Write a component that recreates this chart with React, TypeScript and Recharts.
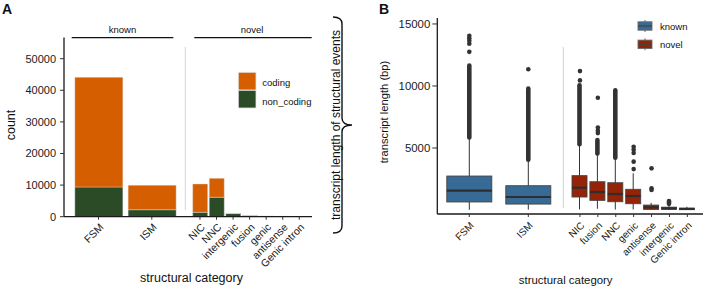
import React from 'react';
import { ComposedChart, Bar, XAxis, YAxis, Scatter } from 'recharts';

// ---- panel A: counts per structural category ----
const knownCats = ['FSM', 'ISM'];
const novelCatsA = ['NIC', 'NNC', 'intergenic', 'fusion', 'genic', 'antisense', 'Genic intron'];
const codingKnown = [34700, 7750];
const nonCodingKnown = [9400, 2200];
const codingNovel = [8950, 6000, 80, 60, 60, 20, 5];
const nonCodingNovel = [1400, 6150, 1000, 380, 150, 80, 25];
const countTicks = [0, 10000, 20000, 30000, 40000, 50000];

// ---- panel B: transcript length box plots ----
const novelCatsB = ['NIC', 'fusion', 'NNC', 'genic', 'antisense', 'intergenic', 'Genic intron'];
const lengthTicks = [5000, 10000, 15000];

const whiskLoKnown = [20, 30];
const q1Known = [650, 480];
const medKnown = [1560, 1050];
const q3Known = [2740, 1960];
const whiskHiKnown = [5780, 3980];
const stripeKnown: ([number, number] | null)[] = [[5850, 11650], [4050, 9800]];
const outliersKnown = [
  [12750, 13400, 13650, 13850, 14050],
  [11350],
];

const whiskLoNovel = [50, 100, 40, 50, 20, 0, 10];
const q1Novel = [1050, 780, 670, 510, 50, 60, 30];
const medNovel = [1800, 1450, 1290, 1130, 220, 130, 90];
const q3Novel = [2770, 2280, 2200, 1670, 400, 230, 150];
const whiskHiNovel = [5240, 4380, 4170, 2960, 580, 480, 260];
const stripeNovel: ([number, number] | null)[] = [
  [5300, 10050], [4550, 5650], [4220, 9650], null, null, [500, 720], null,
];
const outliersNovel = [
  [10450, 11200],
  [6200, 6400, 6650, 9050],
  [],
  [3300, 3900, 4600, 4850, 5100],
  [1620, 1750, 3360],
  [],
  [],
];

const ORANGE = '#D55E00';
const GREEN = '#2B4A26';
const BLUE = '#386A96';
const RED = '#952306';
const FONT = '"Liberation Sans", Arial, Helvetica, sans-serif';

const barRows = (cats: string[], coding: number[], nonCoding: number[]) =>
  cats.map((cat, i) => ({ cat, coding: coding[i], non_coding: nonCoding[i] }));

const boxRows = (
  cats: string[], lo: number[], q1: number[], med: number[], q3: number[], hi: number[],
  stripe: ([number, number] | null)[],
) =>
  cats.map((cat, i) => ({
    cat, whisk: [lo[i], hi[i]], q1: q1[i], med: med[i], q3: q3[i], stripe: stripe[i],
  }));

const outlierRows = (cats: string[], outs: number[][]) =>
  cats.flatMap((cat, i) => outs[i].map((v) => ({ cat, v })));

const aKnown = barRows(knownCats, codingKnown, nonCodingKnown);
const aNovel = barRows(novelCatsA, codingNovel, nonCodingNovel);
const bKnown = boxRows(knownCats, whiskLoKnown, q1Known, medKnown, q3Known, whiskHiKnown, stripeKnown);
const bNovel = boxRows(novelCatsB, whiskLoNovel, q1Novel, medNovel, q3Novel, whiskHiNovel, stripeNovel);
const bKnownOut = outlierRows(knownCats, outliersKnown);
const bNovelOut = outlierRows(novelCatsB, outliersNovel);

const rotTick = (fs: number) => (props: any) => {
  const { x, y, payload } = props;
  return (
    <text
      x={x}
      y={y}
      transform={`rotate(-45 ${x} ${y})`}
      textAnchor="end"
      dominantBaseline="hanging"
      fontSize={fs}
      fontFamily={FONT}
      fill="#1a1a1a"
    >
      {payload.value}
    </text>
  );
};

function BoxShape(props: any) {
  const { x, y, width, height, payload, fill } = props;
  if (!payload || !payload.whisk) return <g />;
  const [lo, hi] = payload.whisk;
  const top = Math.min(y, y + height);
  const bot = Math.max(y, y + height);
  const px = (v: number) => top + ((hi - v) / (hi - lo)) * (bot - top);
  const cx = x + width / 2;
  const yq3 = px(payload.q3);
  const yq1 = px(payload.q1);
  const ym = px(payload.med);
  return (
    <g>
      <line x1={cx} x2={cx} y1={top} y2={bot} stroke="#333" strokeWidth={1} />
      <rect x={x} y={yq3} width={width} height={Math.max(yq1 - yq3, 1)} fill={fill} stroke="#444" strokeWidth={0.9} />
      <line x1={x} x2={x + width} y1={ym} y2={ym} stroke="#2e2e2e" strokeWidth={2.2} />
    </g>
  );
}

function StripeShape(props: any) {
  const { x, y, width, height, payload } = props;
  if (!payload || !payload.stripe) return <g />;
  const top = Math.min(y, y + height);
  const h = Math.abs(height);
  const cx = x + width / 2;
  return <rect x={cx - 2.3} y={top - 2.3} width={4.6} height={h + 4.6} rx={2.3} fill="#333" />;
}

const Dot = (p: any) => <circle cx={p.cx} cy={p.cy} r={2.3} fill="#333" />;

const axisStroke = { stroke: '#1a1a1a', strokeWidth: 1.3 };
const tickStroke = { stroke: '#333', strokeWidth: 1 };

function BarFacet({ data, left, width, yAxis, padL, padR, barSize }: any) {
  return (
    <div style={{ position: 'absolute', left, top: 0 }}>
      <ComposedChart width={width} height={286} data={data} margin={{ top: 37.5, right: 0, bottom: 0, left: 0 }}>
        <XAxis
          dataKey="cat"
          type="category"
          height={69.3}
          padding={{ left: padL, right: padR }}
          axisLine={axisStroke}
          tickLine={tickStroke}
          tickSize={3}
          tickMargin={2.5}
          interval={0}
          tick={rotTick(10.5)}
        />
        <YAxis
          type="number"
          domain={[0, 56700]}
          ticks={countTicks}
          hide={!yAxis}
          width={yAxis ? 64 : 0}
          axisLine={axisStroke}
          tickLine={tickStroke}
          tickSize={4}
          tickMargin={4}
          tick={{ fontSize: 11, fill: '#1a1a1a', fontFamily: FONT }}
        />
        <Bar dataKey="non_coding" stackId="s" fill={GREEN} stroke="#e6e6e6" strokeWidth={0.4} barSize={barSize} isAnimationActive={false} />
        <Bar dataKey="coding" stackId="s" fill={ORANGE} stroke="#e6e6e6" strokeWidth={0.4} barSize={barSize} isAnimationActive={false} />
      </ComposedChart>
    </div>
  );
}

function BoxFacet({ data, outliers, left, width, yAxis, padL, padR, boxSize, fill }: any) {
  return (
    <div style={{ position: 'absolute', left, top: 0 }}>
      <ComposedChart width={width} height={286} data={data} margin={{ top: 18, right: 0, bottom: 0, left: 0 }}>
        <XAxis
          xAxisId="main"
          dataKey="cat"
          type="category"
          allowDuplicatedCategory={false}
          height={72}
          padding={{ left: padL, right: padR }}
          axisLine={axisStroke}
          tickLine={tickStroke}
          tickSize={3}
          tickMargin={4}
          interval={0}
          tick={rotTick(10)}
        />
        <XAxis xAxisId="stripe" dataKey="cat" type="category" hide height={0} padding={{ left: padL, right: padR }} />
        <YAxis
          type="number"
          domain={[-320, 15480]}
          ticks={lengthTicks}
          hide={!yAxis}
          width={yAxis ? 57.3 : 0}
          axisLine={axisStroke}
          tickLine={tickStroke}
          tickSize={5}
          tickMargin={2}
          tick={{ fontSize: 11.4, fill: '#1a1a1a', fontFamily: FONT }}
        />
        <Bar xAxisId="stripe" dataKey="stripe" barSize={boxSize} shape={StripeShape} isAnimationActive={false} />
        <Scatter xAxisId="main" data={outliers} dataKey="v" shape={Dot} isAnimationActive={false} />
        <Bar xAxisId="main" dataKey="whisk" barSize={boxSize} fill={fill} shape={BoxShape} isAnimationActive={false} />
      </ComposedChart>
    </div>
  );
}

function Overlay() {
  const t = { fontFamily: FONT, fill: '#111' } as const;
  return (
    <svg width={705} height={286} style={{ position: 'absolute', left: 0, top: 0, pointerEvents: 'none' }}>
      <text x={2} y={14} fontSize={14} fontWeight="bold" {...t}>A</text>
      <text x={379} y={14} fontSize={14} fontWeight="bold" {...t}>B</text>

      {/* facet strips, panel A */}
      <text x={122.5} y={29} fontSize={9.5} textAnchor="middle" dominantBaseline="central" {...t}>known</text>
      <line x1={71.7} x2={173.3} y1={37.7} y2={37.7} stroke="#111" strokeWidth={1.2} />
      <text x={252} y={29} fontSize={9.5} textAnchor="middle" dominantBaseline="central" {...t}>novel</text>
      <line x1={194.3} x2={311.7} y1={37.7} y2={37.7} stroke="#111" strokeWidth={1.2} />

      {/* facet separators */}
      <line x1={185.3} x2={185.3} y1={47} y2={210} stroke="#d4d4d4" strokeWidth={1} />
      <line x1={563.3} x2={563.3} y1={47} y2={208} stroke="#d4d4d4" strokeWidth={1} />

      {/* axis titles */}
      <text x={11} y={125} fontSize={12.5} textAnchor="middle" dominantBaseline="central" transform="rotate(-90 11 125)" {...t}>count</text>
      <text x={191.5} y={278} fontSize={12.5} textAnchor="middle" dominantBaseline="central" {...t}>structural category</text>
      <text x={384} y={112} fontSize={11.2} textAnchor="middle" dominantBaseline="central" transform="rotate(-90 384 112)" {...t}>transcript length (bp)</text>
      <text x={565.7} y={280} fontSize={11.4} textAnchor="middle" dominantBaseline="central" {...t}>structural category</text>

      {/* legend A */}
      <rect x={238.3} y={72.3} width={17.7} height={17.7} fill={ORANGE} stroke="#e3e3e3" strokeWidth={0.8} />
      <rect x={238.3} y={90.3} width={17.7} height={17.7} fill={GREEN} stroke="#e3e3e3" strokeWidth={0.8} />
      <text x={262.3} y={82.7} fontSize={9.5} dominantBaseline="central" {...t}>coding</text>
      <text x={262.3} y={101.7} fontSize={9.5} dominantBaseline="central" {...t}>non_coding</text>

      {/* legend B */}
      {[{ y: 20, c: BLUE, l: 'known' }, { y: 38.3, c: RED, l: 'novel' }].map((k) => (
        <g key={k.l}>
          <line x1={645} x2={645} y1={k.y} y2={k.y + 12} stroke="#555" strokeWidth={0.9} />
          <rect x={638} y={k.y + 1.8} width={14} height={8.4} fill={k.c} stroke="#6a6a6a" strokeWidth={0.9} />
          <line x1={638} x2={652} y1={k.y + 6} y2={k.y + 6} stroke="#444" strokeWidth={1.2} />
          <text x={660} y={k.y + 6} fontSize={9.5} dominantBaseline="central" {...t}>{k.l}</text>
        </g>
      ))}

      {/* brace */}
      <path
        d="M333 17 Q342 17 342 24 L342 118 Q342 125 352 125 Q342 125 342 132 L342 226 Q342 233 333 233"
        fill="none"
        stroke="#111"
        strokeWidth={1.4}
      />
      <text x={336} y={125} fontSize={12} textAnchor="middle" dominantBaseline="central" transform="rotate(-90 336 125)" {...t}>
        transcript length of structural events
      </text>
    </svg>
  );
}

export default function App() {
  return (
    <div style={{ position: 'absolute', left: 0, top: 0, width: 705, height: 286, background: '#fff', overflow: 'hidden' }}>
      <style>{'.recharts-surface{overflow:visible}'}</style>
      <BarFacet data={aKnown} left={0} width={188} yAxis padL={7.85} padR={9.55} barSize={48} />
      <BarFacet data={aNovel} left={188} width={124} yAxis={false} padL={3.7} padR={4.45} barSize={15} />
      <BoxFacet data={bKnown} outliers={bKnownOut} left={380} width={183} yAxis padL={2.5} padR={5.2} boxSize={45} fill={BLUE} />
      <BoxFacet data={bNovel} outliers={bNovelOut} left={563} width={140} yAxis={false} padL={8} padR={6.7} boxSize={15} fill={RED} />
      <Overlay />
    </div>
  );
}
